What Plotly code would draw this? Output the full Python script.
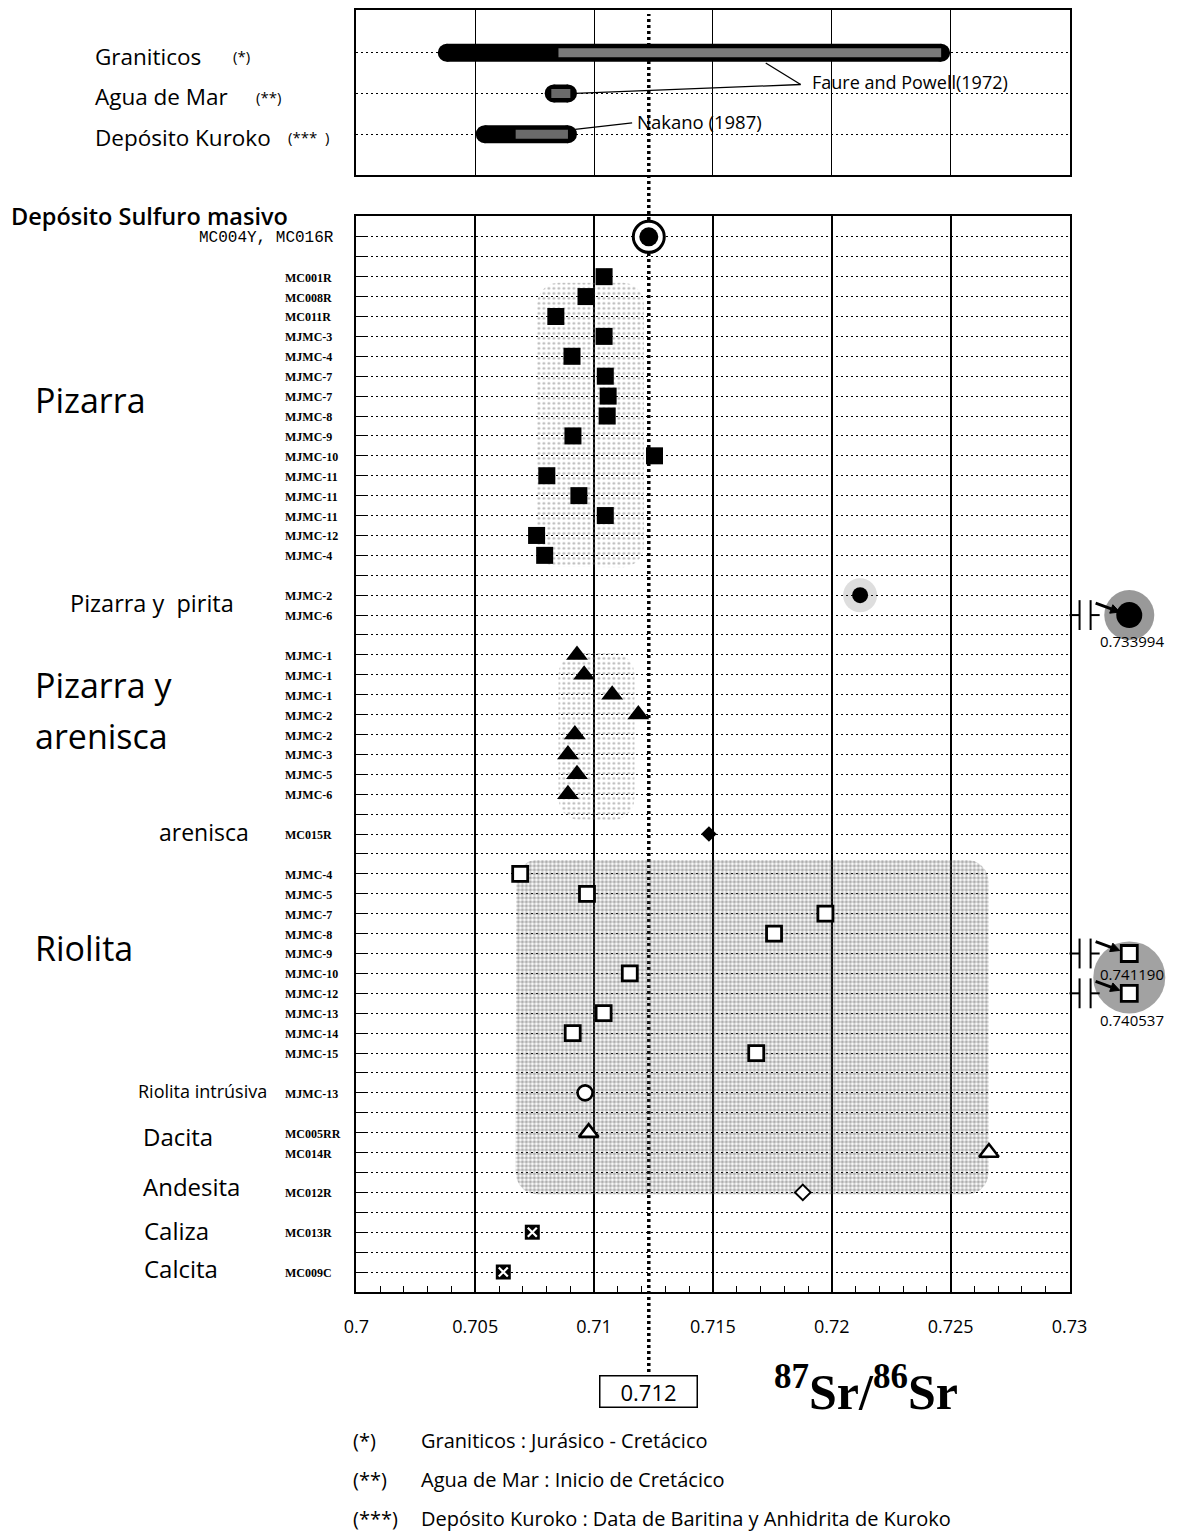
import numpy as np
import plotly.graph_objects as go

# the html body keeps an 8px margin; horizontal placement is tuned to how the page is captured
OFF = 8
SX, OX = 0.970, 15.3
W, H = 1204, 1535 - OFF

# ---------------- data ----------------
x_ticks = [0.700, 0.705, 0.710, 0.715, 0.720, 0.725, 0.730]
x_tick_text = ["0.7", "0.705", "0.71", "0.715", "0.72", "0.725", "0.73"]

ref_value = 0.7123
ref_label = "0.712"

top_labels = ["Graniticos", "Agua de Mar", "Depósito Kuroko"]
top_marks = ["(*)", "(**)", "(***  )"]
granitic_range = [0.7038, 0.7246]
seawater_range = [0.7083, 0.7089]
kuroko_range = [0.7054, 0.7089]

row_labels = [
    "MC004Y, MC016R", "",
    "MC001R", "MC008R", "MC011R", "MJMC-3", "MJMC-4", "MJMC-7", "MJMC-7", "MJMC-8",
    "MJMC-9", "MJMC-10", "MJMC-11", "MJMC-11", "MJMC-11", "MJMC-12", "MJMC-4", "",
    "MJMC-2", "MJMC-6", "",
    "MJMC-1", "MJMC-1", "MJMC-1", "MJMC-2", "MJMC-2", "MJMC-3", "MJMC-5", "MJMC-6", "",
    "MC015R", "",
    "MJMC-4", "MJMC-5", "MJMC-7", "MJMC-8", "MJMC-9", "MJMC-10", "MJMC-12", "MJMC-13",
    "MJMC-14", "MJMC-15", "",
    "MJMC-13", "",
    "MC005RR", "MC014R", "",
    "MC012R", "",
    "MC013R", "",
    "MC009C",
]

sulfide_rows = [0]
sulfide_x = [0.7123]
slate_rows = list(range(2, 17))
slate_x = [0.71042, 0.70966, 0.70839, 0.71042, 0.70907, 0.71047, 0.71059, 0.71055,
           0.70911, 0.71254, 0.70801, 0.70936, 0.71047, 0.70758, 0.70792]
pyrite_rows = [18]
pyrite_x = [0.72119]
pyrite_off_rows = [19]
pyrite_off_x = [0.733994]
sand_slate_rows = list(range(21, 29))
sand_slate_x = [0.70928, 0.70958, 0.71076, 0.71186, 0.70919, 0.70890, 0.70928, 0.70890]
sandstone_rows = [30]
sandstone_x = [0.71483]
rhyolite_rows = [32, 33, 34, 35, 37, 39, 40, 41]
rhyolite_x = [0.70689, 0.70970, 0.71973, 0.71757, 0.71150, 0.71040, 0.70910, 0.71682]
rhyolite_off_rows = [36, 38]
rhyolite_off_x = [0.741190, 0.740537]
intrusive_rows = [43]
intrusive_x = [0.70962]
dacite_rows = [45, 46]
dacite_x = [0.70977, 0.72661]
andesite_rows = [48]
andesite_x = [0.71878]
limestone_rows = [50]
limestone_x = [0.70740]
calcite_rows = [52]
calcite_x = [0.70618]

# shaded fields: [x0, x1, row_top, row_bottom]
slate_field = [0.7076, 0.7121, 2.3, 16.6]
sand_slate_field = [0.7085, 0.7117, 20.9, 29.3]
rhyolite_field = [0.7067, 0.7266, 31.3, 48.1]

group_labels = [
    ("Pizarra", 35, 8.2, 34),
    ("Pizarra y  pirita", 70, 18.4, 23.5),
    ("Pizarra y", 35, 22.5, 34),
    ("arenisca", 35, 25.05, 34),
    ("arenisca", 158, 29.9, 23),
    ("Riolita", 35, 35.7, 34),
    ("Riolita intrúsiva", 138, 42.9, 18),
    ("Dacita", 143, 45.2, 24),
    ("Andesita", 143, 47.7, 24),
    ("Caliza", 144, 49.9, 24),
    ("Calcita", 144, 51.8, 24),
]

footnotes = [
    ("(*)", "Graniticos : Jurásico - Cretácico"),
    ("(**)", "Agua de Mar : Inicio de Cretácico"),
    ("(***)", "Depósito Kuroko : Data de Baritina y Anhidrita de Kuroko"),
]

# ---------------- layout constants (reference picture pixels) ----------------
AX_L, AX_R = 357, 1067
TOP_T, TOP_B = 9, 174
MAIN_T, MAIN_B = 215, 1292
PX_PER_X = (AX_R - AX_L) / 0.03 / SX
PX_PER_ROW = 19.92
ROW_RANGE = [(MAIN_B - 236) / PX_PER_ROW, (MAIN_T - 236) / PX_PER_ROW]

SANS = "Open Sans, Noto Sans, sans-serif"
SERIF = "Liberation Serif, Times New Roman, serif"


def pxx(p):
    return ((p - OX) / SX - OFF) / W


def pxy(p):
    return 1 - (p - OFF) / H


def rounded(x0, x1, r0, r1, rad):
    rx = rad / PX_PER_X
    ry = rad / PX_PER_ROW
    xs, ys = [], []
    for th in np.linspace(0, 2 * np.pi, 161):
        c, s = np.cos(th), np.sin(th)
        cx = x1 - rx if c >= 0 else x0 + rx
        cy = r1 - ry if s >= 0 else r0 + ry
        xs.append(cx + rx * c)
        ys.append(cy + ry * s)
    return xs, ys


fig = go.Figure()

# ---------------- top panel ----------------
def capsule(rng, row, inner=None, inner_color="#707070"):
    fig.add_trace(go.Scatter(x=rng, y=[row, row], mode="lines+markers",
                             line=dict(color="black", width=18),
                             marker=dict(size=18, color="black"),
                             xaxis="x", yaxis="y", hoverinfo="skip"))
    if inner:
        fig.add_trace(go.Scatter(x=inner, y=[row, row], mode="lines",
                                 line=dict(color=inner_color, width=9),
                                 xaxis="x", yaxis="y", hoverinfo="skip"))


capsule(granitic_range, 0, [granitic_range[0] + 0.0047, granitic_range[1]], "#7a7a7a")
capsule(seawater_range, 1, [seawater_range[0] - 0.0001, seawater_range[1] + 0.0001], "#6a6a6a")
capsule(kuroko_range, 2, [kuroko_range[0] + 0.0013, kuroko_range[1]], "#6a6a6a")

# ---------------- shaded fields ----------------
for fld, dens, sz, fg in [(slate_field, 0.2, 5, "#6d6d6d"), (sand_slate_field, 0.2, 5, "#6d6d6d"),
                          (rhyolite_field, 0.55, 4, "#5e5e5e")]:
    xs, ys = rounded(*fld, 22)
    fig.add_trace(go.Scatter(x=xs, y=ys, mode="lines", fill="toself",
                             line=dict(width=0, color="rgba(0,0,0,0)"),
                             fillcolor="rgba(0,0,0,0)",
                             fillpattern=dict(shape=".", fgcolor=fg, bgcolor="rgba(0,0,0,0)",
                                              size=sz, solidity=dens),
                             xaxis="x2", yaxis="y2", hoverinfo="skip"))

# ---------------- main markers ----------------
def pts(x, y, **mk):
    fig.add_trace(go.Scatter(x=x, y=y, mode="markers", marker=mk,
                             xaxis="x2", yaxis="y2", hoverinfo="skip"))


pts(sulfide_x, sulfide_rows, symbol="circle", size=31, color="white", line=dict(color="black", width=3))
pts(sulfide_x, sulfide_rows, symbol="circle", size=19, color="black")
pts(slate_x, slate_rows, symbol="square", size=17, color="black")
pts(pyrite_x, pyrite_rows, symbol="circle", size=34, color="rgba(0,0,0,0.13)")
pts(pyrite_x, pyrite_rows, symbol="circle", size=16, color="black")
pts(sand_slate_x, sand_slate_rows, symbol="triangle-up", size=19, color="black")
pts(sandstone_x, sandstone_rows, symbol="diamond", size=12, color="black")
pts(rhyolite_x, rhyolite_rows, symbol="square", size=15, color="white", line=dict(color="black", width=2.8))
pts(intrusive_x, intrusive_rows, symbol="circle", size=15, color="white", line=dict(color="black", width=2.6))
pts(dacite_x, dacite_rows, symbol="triangle-up", size=17, color="white", line=dict(color="black", width=2.6))
pts(andesite_x, andesite_rows, symbol="diamond", size=12, color="white", line=dict(color="black", width=2))
for xs_, rs_ in [(limestone_x, limestone_rows), (calcite_x, calcite_rows)]:
    pts(xs_, rs_, symbol="square", size=15, color="black")
    pts(xs_, rs_, symbol="x-thin", size=9, color="white", line=dict(color="white", width=2.2))

# ---------------- off-scale markers ----------------
off = "fuera de escala"


def offpts(rows, **mk):
    fig.add_trace(go.Scatter(x=[off] * len(rows), y=rows, mode="markers", marker=mk,
                             xaxis="x3", yaxis="y3", hoverinfo="skip"))


offpts(pyrite_off_rows, symbol="circle", size=50, color="rgba(70,70,70,0.55)")
offpts([float(np.mean(rhyolite_off_rows)) + 0.2], symbol="circle", size=72, color="rgba(70,70,70,0.5)")
offpts(pyrite_off_rows, symbol="circle", size=26, color="black")
offpts(rhyolite_off_rows, symbol="square", size=16, color="white", line=dict(color="black", width=2.8))

shapes = []
annotations = []

for r in pyrite_off_rows + rhyolite_off_rows:
    for (a, b, y0, y1) in [(AX_R, 1077, r, r), (1077, 1077, r - 0.75, r + 0.75),
                           (1088, 1088, r - 0.75, r + 0.75), (1088, 1097, r, r)]:
        shapes.append(dict(type="line", xref="paper", yref="y2", x0=pxx(a), x1=pxx(b), y0=y0, y1=y1,
                           line=dict(color="black", width=2)))
    # arrow pointing to the off-scale marker
    tail = np.array([1093.0, 0.0])
    tip = np.array([1117.0, 0.45 * PX_PER_ROW])
    u = (tip - tail) / np.linalg.norm(tip - tail)
    pperp = np.array([-u[1], u[0]])
    base = tip - 9 * u
    b1, b2 = base + 4.5 * pperp, base - 4.5 * pperp
    rr = lambda v: r - 0.6 + v / PX_PER_ROW
    shapes.append(dict(type="line", xref="paper", yref="y2", x0=pxx(tail[0]), x1=pxx(base[0]),
                       y0=rr(tail[1]), y1=rr(base[1]), line=dict(color="black", width=3)))
    shapes.append(dict(type="path", xref="paper", yref="y2",
                       path=f"M {pxx(tip[0])},{rr(tip[1])} L {pxx(b1[0])},{rr(b1[1])} "
                            f"L {pxx(b2[0])},{rr(b2[1])} Z",
                       fillcolor="black", line=dict(color="black", width=1)))

# labels of the off-scale values, kept inside the right edge of the page
off_labels = [(pyrite_off_x[0], pyrite_off_rows[0] + 1.3),
              (rhyolite_off_x[0], rhyolite_off_rows[0] + 1.05),
              (rhyolite_off_x[1], rhyolite_off_rows[1] + 1.35)]
for v, yr in off_labels:
    annotations.append(dict(xref="paper", yref="y2", x=(1183 - OFF) / W, y=yr, xanchor="right",
                            yanchor="middle", showarrow=False, text=f"{v:.6f}",
                            font=dict(family=SANS, size=15, color="black", weight=500)))

# ---------------- reference dotted line ----------------
shapes.append(dict(type="line", xref="x2", yref="paper", x0=ref_value, x1=ref_value,
                   y0=pxy(1378), y1=pxy(TOP_T + 4), layer="below",
                   line=dict(color="black", width=3.5, dash="3px,3px")))

annotations.append(dict(xref="x2", yref="paper", x=ref_value, y=pxy(1391), showarrow=False,
                        xanchor="center", yanchor="middle", text=ref_label, width=94, height=28,
                        bordercolor="black", borderwidth=1.5, bgcolor="white",
                        font=dict(family=SANS, size=22, color="black")))
annotations.append(dict(xref="paper", yref="paper", x=pxx(864), y=pxy(1388), showarrow=False,
                        xanchor="center", yanchor="middle", text="<sup>87</sup>Sr/<sup>86</sup>Sr",
                        font=dict(family=SERIF, size=50, color="black", weight="bold")))

# ---------------- top panel labels ----------------
top_mark_x = [232, 255, 287]
for i, (lab, mk) in enumerate(zip(top_labels, top_marks)):
    annotations.append(dict(xref="paper", yref="y", x=pxx(95), y=i + 0.08, xanchor="left",
                            yanchor="middle", showarrow=False, text=lab,
                            font=dict(family=SANS, size=22.5, color="black")))
    annotations.append(dict(xref="paper", yref="y", x=pxx(top_mark_x[i]), y=i + 0.08, xanchor="left",
                            yanchor="middle", showarrow=False, text=mk,
                            font=dict(family=SANS, size=15, color="black")))

annotations.append(dict(xref="x", yref="y", x=0.7191, y=0.73, xanchor="left", yanchor="middle",
                        showarrow=False, text="Faure and Powell(1972)",
                        font=dict(family=SANS, size=18, color="black")))
annotations.append(dict(xref="x", yref="y", x=0.7117, y=1.68, xanchor="left", yanchor="middle",
                        showarrow=False, text="Nakano (1987)",
                        font=dict(family=SANS, size=18.5, color="black")))
for (xa, ya, xb, yb) in [(0.71722, 0.25, 0.71869, 0.78),
                         (seawater_range[1] + 0.0003, 1.0, 0.71869, 0.78),
                         (kuroko_range[1] + 0.0003, 1.88, 0.7116, 1.72)]:
    shapes.append(dict(type="line", xref="x", yref="y", x0=xa, y0=ya, x1=xb, y1=yb,
                       line=dict(color="black", width=1.3)))

# ---------------- main panel labels ----------------
annotations.append(dict(xref="paper", yref="y2", x=pxx(11), y=-1.05, xanchor="left", yanchor="middle",
                        showarrow=False, text="Depósito Sulfuro masivo",
                        font=dict(family=SANS, size=23.5, color="black", weight=600)))
for i, lab in enumerate(row_labels):
    if not lab:
        continue
    if i == 0:
        annotations.append(dict(xref="paper", yref="y2", x=pxx(337), y=i + 0.05, xanchor="right",
                                yanchor="middle", showarrow=False, text=lab,
                                font=dict(family="Liberation Mono, monospace", size=16, color="black")))
    else:
        annotations.append(dict(xref="paper", yref="y2", x=pxx(284), y=i + 0.05, xanchor="left",
                                yanchor="middle", showarrow=False, text=lab,
                                font=dict(family=SERIF, size=12, color="black", weight="bold")))
for txt, xp, row, sz in group_labels:
    annotations.append(dict(xref="paper", yref="y2", x=pxx(xp), y=row, xanchor="left", yanchor="middle",
                            showarrow=False, text=txt, font=dict(family=SANS, size=sz, color="black")))

# ---------------- footnotes ----------------
for i, (mk, txt) in enumerate(footnotes):
    yy = pxy(1440 + 39 * i)
    annotations.append(dict(xref="paper", yref="paper", x=pxx(352), y=yy, xanchor="left",
                            yanchor="middle", showarrow=False, text=mk,
                            font=dict(family=SANS, size=20, color="black")))
    annotations.append(dict(xref="paper", yref="paper", x=pxx(419), y=yy, xanchor="left",
                            yanchor="middle", showarrow=False, text=txt,
                            font=dict(family=SANS, size=20, color="black")))

axis_common = dict(showline=True, mirror=True, linecolor="black", linewidth=2, zeroline=False,
                   gridcolor="black")

fig.update_layout(
    width=W, height=H, margin=dict(l=0, r=0, t=0, b=0),
    paper_bgcolor="white", plot_bgcolor="white", showlegend=False, hovermode=False,
    xaxis=dict(domain=[pxx(AX_L), pxx(AX_R)], anchor="y", range=[0.7, 0.73], tickvals=x_ticks,
               showticklabels=False, ticks="", showgrid=True, gridwidth=1.4, **axis_common),
    yaxis=dict(domain=[pxy(TOP_B), pxy(TOP_T)], anchor="x", range=[3.0, -1.05], tickvals=[0, 1, 2],
               showticklabels=False, ticks="", showgrid=True, gridwidth=1.3, griddash="2px,3px",
               **axis_common),
    xaxis2=dict(domain=[pxx(AX_L), pxx(AX_R)], anchor="y2", range=[0.7, 0.73], tickvals=x_ticks,
                ticktext=x_tick_text, ticks="inside", ticklen=6, tickwidth=1.3, tickcolor="black",
                minor=dict(dtick=0.001, tick0=0.7, ticks="inside", ticklen=6, tickwidth=1.2,
                           tickcolor="black", showgrid=False),
                showgrid=True, gridwidth=1.6, ticklabelstandoff=17,
                tickfont=dict(family=SANS, size=18, color="black"), **axis_common),
    yaxis2=dict(domain=[pxy(MAIN_B), pxy(MAIN_T)], anchor="x2", range=ROW_RANGE,
                tickvals=list(range(len(row_labels))), showticklabels=False, ticks="inside",
                ticklen=12, tickwidth=1.4, tickcolor="black", showgrid=True, gridwidth=1.3,
                griddash="2px,3px", **axis_common),
    xaxis3=dict(domain=[pxx(AX_R), pxx(1186)], anchor="y3", type="category", range=[-0.5, 0.5],
                visible=False, showgrid=False),
    yaxis3=dict(domain=[pxy(MAIN_B), pxy(MAIN_T)], anchor="x3", range=ROW_RANGE,
                visible=False, showgrid=False),
    shapes=shapes, annotations=annotations,
)

fig.write_html("out.html")
